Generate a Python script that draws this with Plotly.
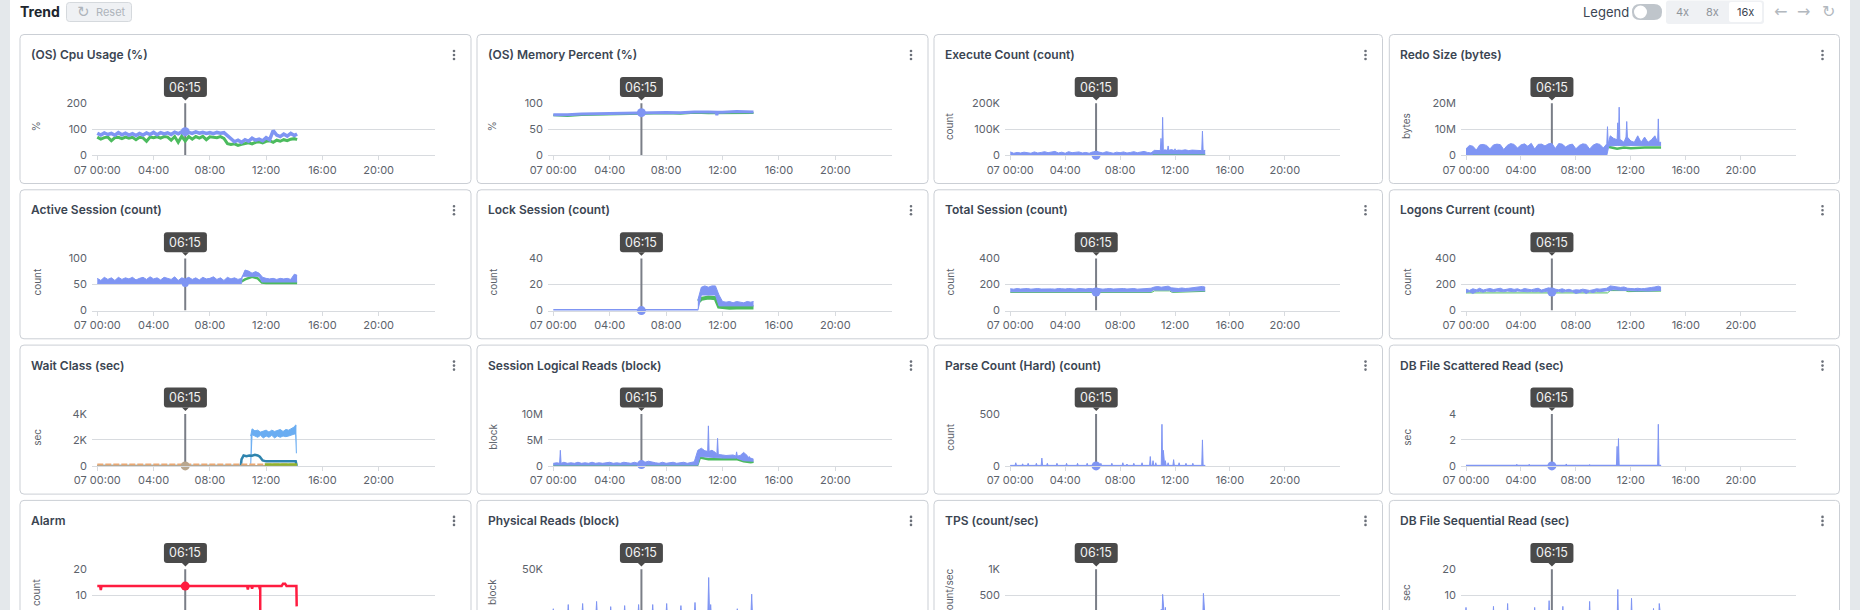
import plotly.graph_objects as go

W, H = 1860, 610
FONT = "Inter"

# Shared 15-minute sampling clock, hours since 07 00:00
HOURS = [0, .25, .5, .75, 1, 1.25, 1.5, 1.75, 2, 2.25, 2.5, 2.75, 3, 3.25, 3.5, 3.75, 4, 4.25, 4.5, 4.75,
         5, 5.25, 5.5, 5.75, 6, 6.25, 6.5, 6.75, 7, 7.25, 7.5, 7.75, 8, 8.25, 8.5, 8.75, 9, 9.25, 9.5, 9.75,
         10, 10.25, 10.5, 10.75, 11, 11.25, 11.5, 11.75, 12, 12.25, 12.5, 12.75, 13, 13.25, 13.5, 13.75, 14, 14.2]
TICK_HOURS = [0, 4, 8, 12, 16, 20]
TICK_TEXT = ["07 00:00", "04:00", "08:00", "12:00", "16:00", "20:00"]
CURSOR_HOUR = 6.25
CURSOR_TEXT = "06:15"

# (OS) Cpu Usage
cpu_blue = [85, 78, 86, 80, 84, 77, 87, 79, 85, 78, 83, 76, 84, 78, 86, 80, 88, 79, 87, 82, 86, 80, 89, 83, 90,
            98, 88, 84, 90, 85, 88, 84, 87, 83, 88, 85, 87,
            74, 62, 52, 58, 50, 60, 54, 66, 58, 62, 56, 68, 60, 95, 78, 72, 82, 74, 84, 76, 82]
cpu_green = [70, 62, 68, 70, 56, 68, 69, 64, 70, 66, 69, 60, 69, 67, 54, 70, 68, 71, 66, 72, 70, 58, 72, 50, 73,
             55, 72, 62, 72, 66, 73, 60, 71, 70, 68, 72, 65,
             45, 42, 44, 38, 42, 46, 48, 44, 50, 52, 48, 54, 56, 50, 58, 54, 60, 56, 62, 64, 60]

# (OS) Memory Percent
mem_blue_x = [0, 1, 2, 3, 4, 5, 6.25, 7, 8, 9, 10, 11, 11.55, 11.6, 11.65, 12, 13, 14.2]
mem_blue = [78, 78, 79.5, 80, 81, 81.5, 82, 82.5, 82.5, 82, 83.5, 83.5, 83, 77, 83, 83, 84, 83.5]
mem_green_x = [0, 1, 2, 4, 6.25, 7, 8, 9, 10, 11, 12, 13, 14.2]
mem_green = [77, 75.5, 77.5, 79, 80, 80, 81, 80, 82, 81, 81.5, 82, 81.5]

# Execute Count (K)
exec_hi = [13, 8, 11, 9, 12, 10, 8, 13, 9, 11, 14, 10, 13, 15, 9, 12, 8, 14, 10, 11, 13, 9, 11, 8, 13, 10, 12, 9, 14, 11,
           8, 12, 10, 13, 9, 11, 14, 10, 12, 15, 11, 9,
           19, 20, 18, 21, 19, 22, 18, 20, 19, 21, 18, 20, 19, 20, 18, 19]
exec_lo_x = [0, 10.25, 10.4, 14.2]
exec_lo = [0, 0, 5, 5]
exec_peak_x = [10.98, 11.1, 11.5, 12.0, 14.0]
exec_peak = [65, 146, 36, 25, 93]
exec_green_x = [10.3, 14.2]
exec_green = [3, 3]

# Redo Size (M)
redo_hi = [2.5, 3.8, 3.5, 2, 4, 4.2, 3.8, 2.5, 4, 4.3, 4.1, 2.2, 3.8, 4.5, 4.2, 2.8, 4, 4.4, 3.5, 4.6, 2.4, 4.2, 4.3,
           3.6, 4.4, 4.6, 2.6, 4.5, 4.3, 3.2, 4, 4.3, 2.5, 3.8, 4.4, 4.2, 2.4, 3.9, 4.5, 4.2, 2.8, 4.4,
           7.5, 6.5, 6, 6, 5, 7, 5.5, 5, 7.5, 5, 7, 5, 6, 7.5, 5, 5]
redo_lo_x = [0, 10.25, 10.4, 11, 14.2]
redo_lo = [0, 0, 3.6, 3.8, 3.8]
redo_peak_x = [10.3, 11.05, 11.15, 11.7, 14.0]
redo_peak = [11, 12.5, 18.5, 13, 14]
redo_green_x = [10.25, 10.5, 11, 11.5, 12, 13, 14.2]
redo_green = [3.4, 3, 2.5, 3, 2.7, 3, 3]

# Active Session
active_hi = [62, 58, 64, 60, 63, 58, 64, 60, 63, 61, 64, 59, 62, 64, 60, 65, 61, 63, 59, 64, 62, 60, 65, 58, 63,
             61, 64, 60, 63, 59, 64, 61, 62, 65, 60, 63, 58, 64, 61, 63, 60, 62,
             78, 76, 72, 75, 72, 64, 62, 61, 62, 60, 62, 61, 62, 60, 70, 68]
active_lo_x = [0, 10.25, 10.3, 11.5, 11.7, 14.2]
active_lo = [52, 52, 66, 66, 55, 55]
active_green_x = [10.25, 10.5, 11, 11.4, 11.7, 12, 13, 14.2]
active_green = [56, 60, 65, 62, 54, 53, 53, 53]

# Lock Session
lock_idle_x = [0, 10.25]
lock_idle = [0, 0]
lock_hi = [8, 18, 19, 18, 19, 19, 12, 7, 6.5, 7, 6, 7, 6.5, 6, 7, 6.5, 7]
lock_lo_x = [10.25, 10.5, 11.5, 11.75, 14.2]
lock_lo = [0, 12, 12, 3.6, 3.6]
lock_green_x = [10.3, 10.5, 11, 11.5, 11.75, 12.5, 13.5, 14.2]
lock_green = [7, 9, 10, 9.5, 3, 2.2, 2.6, 2.4]

# Total Session
total_hi = [168, 165, 170, 166, 168, 170, 165, 168, 170, 166, 168, 170, 167, 165, 170, 168, 166, 170, 168, 165,
            170, 168, 166, 170, 168, 172, 168, 165, 168, 170, 166, 168, 165, 170, 166, 168, 170, 165, 168, 166,
            170, 172,
            182, 185, 180, 184, 188, 175, 172, 170, 174, 170, 172, 175, 178, 182, 186, 180]
total_lo_x = [0, 6.1, 6.25, 6.4, 10.25, 10.4, 11.6, 11.8, 13.4, 14.2]
total_lo = [145, 145, 122, 145, 145, 158, 158, 145, 152, 152]
total_green_x = [0, 10.3, 10.5, 11.6, 11.8, 14.2]
total_green = [140, 140, 152, 152, 140, 148]

# Logons Current
logon_hi = [165, 155, 168, 160, 172, 158, 165, 170, 162, 168, 172, 160, 167, 170, 163, 168, 158, 170, 165, 160,
            167, 172, 158, 165, 175, 170, 165, 160, 168, 158, 164, 155, 160, 158, 165, 162, 155, 160, 168, 165,
            170, 172,
            190, 185, 182, 178, 182, 172, 170, 168, 172, 168, 170, 172, 178, 182, 188, 180]
logon_lo = [140, 145, 132, 145, 148, 142, 150, 148, 145, 150, 148, 145, 150, 148, 145, 150, 148, 146, 145, 148,
            145, 148, 142, 146, 150, 128, 145, 148, 142, 146, 148, 145, 132, 140, 146, 132, 146, 138, 148, 145,
            150, 150,
            160, 160, 158, 156, 155, 152, 150, 152, 150, 152, 150, 150, 152, 155, 155, 155]
logon_green_x = [0, 10.3, 10.5, 11.6, 11.8, 14.2]
logon_green = [136, 136, 154, 154, 146, 150]

# Wait Class, one list per class
wait_sky_x = [10.9, 11, 11.2, 11.4, 11.6, 11.8, 12, 12.2, 12.4, 12.6, 12.8, 13, 13.2, 13.4, 13.6, 13.8, 14, 14.1, 14.15]
wait_sky_hi = [2300, 2850, 2700, 2750, 2600, 2700, 2750, 2600, 2750, 2650, 2700, 2800, 2650, 2800, 2750, 2900, 3000, 3150, 3100]
wait_sky_lo = [0, 2400, 2300, 2200, 2350, 2150, 2300, 2200, 2350, 2150, 2300, 2200, 2300, 2250, 2300, 2350, 2450, 2400, 970]
wait_teal_x = [0, 10.2, 10.25, 10.4, 10.6, 10.8, 11, 11.2, 11.4, 11.55, 11.75, 12, 13, 14.1, 14.15, 14.17]
wait_teal = [0, 0, 500, 800, 750, 800, 780, 850, 800, 700, 420, 350, 350, 350, 100, 0]
wait_orange_x = [0, 14.2]
wait_orange = [80, 80]
wait_olive_x = [11.9, 14.2]
wait_olive = [110, 110]
wait_tan_x = [0, 14.2]
wait_tan = [10, 10]

# Session Logical Reads (M)
logical_hi = [.5, .6, .5, .7, .5, .6, .5, .7, .5, .6, .5, .7, .5, .6, .5, .6, .7, .5, .6, .5, .7, .6, .5, .7, .5,
              .8, .7, .9, .7, .6, .5, .7, .5, .6, .7, .5, .6, .7, .5, .6, .8, 3.0,
              3.4, 2.9, 2.8, 3.0, 2.6, 2.2, 2.1, 2.0, 2.0, 2.1, 1.9, 2.0, 2.6, 2.0, 1.5, 1.3]
logical_lo_x = [0, 10.25, 10.4, 12, 13, 13.5, 14.2]
logical_lo = [.15, .15, 1.8, 1.5, 1.5, 1.0, .9]
logical_peak_x = [.5, 11.0, 11.65, 13.0, 13.9]
logical_peak = [3.0, 7.7, 5.3, 2.7, 1.8]
logical_green_x = [0, 10.2, 10.4, 11, 12, 13, 13.5, 14, 14.2]
logical_green = [.05, .1, 1.6, 1.3, 1.3, 1.3, .9, .7, .8]

# Parse Count (Hard)
parse_base_x = [0, 14.2]
parse_base = [5, 5]
parse_peak_x = [.4, .9, 1.3, 1.9, 2.3, 2.7, 3.4, 4.1, 4.9, 5.6, 6.2, 6.6, 7.4, 8.2, 8.5, 9.0, 9.6, 10.2, 10.4, 10.6,
                11.05, 11.15, 11.3, 11.5, 11.9, 12.3, 12.8, 13.3, 14.0]
parse_peak = [30, 20, 25, 25, 75, 25, 25, 25, 25, 25, 30, 25, 25, 30, 18, 25, 30, 90, 50, 30,
              400, 150, 50, 30, 60, 30, 25, 25, 250]

# DB File Scattered Read
scatter_base_x = [0, 14.2]
scatter_base = [.02, .02]
scatter_peak_x = [3.7, 4.6, 7.3, 9.0, 11.0, 11.1, 14.0]
scatter_peak = [.12, .12, .15, .1, 1.5, 2.1, 3.2]

# Alarm
alarm_x = [0, .2, .25, .3, 10.65, 10.7, 10.75, 10.95, 11.0, 11.05, 11.5, 11.55, 11.58, 11.58, 11.58, 13.1, 13.2, 13.35,
           13.45, 14.15, 14.17]
alarm = [13.5, 13.5, 12, 13.5, 13.5, 12.2, 13.5, 13.5, 12.5, 13.5, 13.5, 12.3, 13.5, 0, 13.5, 13.5, 14.4, 14.4,
         13.5, 13.5, 5.7]

# Physical Reads (K)
physical_peak_x = [0, 1.06, 2.08, 3.07, 4.07, 5.06, 6.05, 7.05, 8.04, 9.05, 10.05, 11.02, 11.16, 13.05, 14.07]
physical_peak = [12, 16, 17, 19, 14, 15, 16, 16, 17, 15, 18, 42, 16, 12, 26]

# TPS
tps_peak_x = [11.0, 11.1, 11.3, 14.07]
tps_peak = [230, 515, 265, 535]

# DB File Sequential Read
seq_peak_x = [0, 2.0, 3.03, 5.0, 6.05, 7.05, 9.0, 11.05, 12.05, 13.65, 14.07]
seq_peak = [5.3, 5.7, 6.8, 5.3, 7.9, 5.7, 7.6, 12.2, 8.8, 4.9, 6.8]
spike_floor_x = [0, 14.2]
spike_floor = [0, 0]

BLUE = "#7F95F3"
GREEN = "#4CBB5E"
SKY = "#6AADF2"
TEAL = "#2E84AE"
ORANGE = "#EBA873"
OLIVE = "#8FB32E"
TAN = "#B9A78F"
RED = "#FF1C40"
GRID = "#D8DBDF"
CARD = "#CBCFD5"
TEXT = "#5C626B"

# Pixel geometry of the dashboard grid
COLUMNS = [
    dict(left=20, right=471, x0=92, x1=435, t0=97.3, per_hour=14.1, unit_x=36.7),
    dict(left=477, right=928, x0=548, x1=891.7, t0=553.3, per_hour=14.1, unit_x=492.7),
    dict(left=934, right=1382.5, x0=1005, x1=1339.7, t0=1010.3, per_hour=13.75, unit_x=949.6),
    dict(left=1389.3, right=1839.5, x0=1461, x1=1795.7, t0=1466, per_hour=13.75, unit_x=1406.6),
]
ROW_PITCH = 155.3


def px(x):
    return x / W


def py(y):
    return 1 - y / H


def rounded(x0, y0, x1, y1, r):
    return (f"M {px(x0 + r)} {py(y0)} L {px(x1 - r)} {py(y0)} Q {px(x1)} {py(y0)} {px(x1)} {py(y0 + r)} "
            f"L {px(x1)} {py(y1 - r)} Q {px(x1)} {py(y1)} {px(x1 - r)} {py(y1)} "
            f"L {px(x0 + r)} {py(y1)} Q {px(x0)} {py(y1)} {px(x0)} {py(y1 - r)} "
            f"L {px(x0)} {py(y0 + r)} Q {px(x0)} {py(y0)} {px(x0 + r)} {py(y0)} Z")


def with_peaks(hours, values, peak_x, peak_y, half=.05):
    """Merge narrow peaks into a sampled series, each peak rising from its nearest sample."""
    feet = [values[min(range(len(hours)), key=lambda i: abs(hours[i] - h))] for h in peak_x]
    points = [(h, v) for h, v in zip(hours, values) if all(abs(h - p) > half for p in peak_x)]
    for h, v, f in zip(peak_x, peak_y, feet):
        points += [(h - half, f), (h, v), (h + half, f)]
    points.sort(key=lambda p: p[0])
    return [p[0] for p in points], [p[1] for p in points]


fig = go.Figure()
shapes, notes = [], []


def text(x, y, s, size=11, color=TEXT, anchor="center", weight=400, angle=0, family=FONT):
    notes.append(dict(x=px(x), y=py(y), xref="paper", yref="paper", text=s, showarrow=False, xanchor=anchor,
                      yanchor="middle", textangle=angle, font=dict(family=family, size=size, color=color, weight=weight)))


def box(x0, y0, x1, y1, fill, line=None, r=3, layer="below"):
    shapes.append(dict(type="path", path=rounded(x0, y0, x1, y1, r), xref="paper", yref="paper", fillcolor=fill,
                       line=dict(color=line or fill, width=1 if line else 0), layer=layer))


def line(n, x, y, color, width=2.5, dash=None):
    fig.add_trace(go.Scatter(x=x, y=y, mode="lines", xaxis=f"x{n}", yaxis=f"y{n}", cliponaxis=False,
                             line=dict(color=color, width=width, dash=dash, shape="linear"), hoverinfo="skip"))


def band(n, hi_x, hi, lo_x, lo, color):
    line(n, lo_x, lo, color, 1)
    fig.add_trace(go.Scatter(x=hi_x, y=hi, mode="lines", xaxis=f"x{n}", yaxis=f"y{n}", cliponaxis=False,
                             fill="tonexty", fillcolor=color, line=dict(color=color, width=1), hoverinfo="skip"))


def dot(n, y, color, size=9):
    fig.add_trace(go.Scatter(x=[CURSOR_HOUR], y=[y], mode="markers", xaxis=f"x{n}", yaxis=f"y{n}", cliponaxis=False,
                             marker=dict(color=color, size=size), hoverinfo="skip"))


def panel(n, row, col, title, unit, top, ticks, labels):
    c = COLUMNS[col]
    off = row * ROW_PITCH
    y_top, y_zero = 103.3 + off, 155.3 + off
    y_bottom = min(y_zero, H)
    low = top * (y_zero - y_bottom) / (y_zero - y_top)
    box(c["left"], 34.5 + off, c["right"], 183.5 + off, "#FFFFFF", CARD, 4)
    text(c["left"] + 9, 54.5 + off, title, 12, "#3B4552", "left", 600)
    for dy in (-4, 0, 4):
        shapes.append(dict(type="circle", xref="paper", yref="paper", x0=px(c["right"] - 18.3), x1=px(c["right"] - 15.7),
                           y0=py(55 + off + dy + 1.3), y1=py(55 + off + dy - 1.3), fillcolor="#6B7079",
                           line=dict(width=0), layer="above"))
    text(c["unit_x"], 126.5 + off, unit, 10, TEXT, angle=-90)
    x_key = "xaxis" if n == 1 else f"xaxis{n}"
    y_key = "yaxis" if n == 1 else f"yaxis{n}"
    x_start = (c["x0"] - c["t0"]) / c["per_hour"]
    fig.update_layout(**{
        x_key: dict(domain=[px(c["x0"]), px(c["x1"])], range=[x_start, 24], anchor=f"y{n}", tickmode="array",
                    tickvals=TICK_HOURS, ticktext=TICK_TEXT, showgrid=False, zeroline=False,
                    showline=row < 3, linecolor=GRID, linewidth=1, ticks="outside" if row < 3 else "",
                    ticklen=4, tickcolor=GRID, showticklabels=row < 3, fixedrange=True,
                    tickfont=dict(family=FONT, size=11, color=TEXT)),
        y_key: dict(domain=[py(y_bottom), py(y_top)], range=[low, top], anchor=f"x{n}", tickmode="array",
                    tickvals=ticks, ticktext=labels, showgrid=True, gridcolor=GRID, gridwidth=1, zeroline=False,
                    showline=False, ticks="", ticklabelstandoff=4, fixedrange=True,
                    tickfont=dict(family=FONT, size=11, color=TEXT)),
    })
    # Cursor stem, bubble and its time label
    cx = c["t0"] + CURSOR_HOUR * c["per_hour"]
    line(n, [CURSOR_HOUR, CURSOR_HOUR], [low, top * 1.1], "#7A7E87", 2)
    box(cx - 21.5, 77 + off, cx + 21.5, 97 + off, "#4A4A4A", None, 3, "above")
    shapes.append(dict(type="path", xref="paper", yref="paper", layer="above", fillcolor="#4A4A4A", line=dict(width=0),
                       path=f"M {px(cx - 3.5)} {py(97 + off)} L {px(cx)} {py(100.5 + off)} L {px(cx + 3.5)} {py(97 + off)} Z"))
    text(cx, 87 + off, CURSOR_TEXT, 12.5, "#F2F2F2")


# Row 1
panel(1, 0, 0, "(OS) Cpu Usage (%)", "%", 200, [0, 100, 200], ["0", "100", "200"])
line(1, HOURS, cpu_green, GREEN, 3)
line(1, HOURS, cpu_blue, BLUE, 3.5)
dot(1, 91, BLUE)

panel(2, 0, 1, "(OS) Memory Percent (%)", "%", 100, [0, 50, 100], ["0", "50", "100"])
line(2, mem_green_x, mem_green, GREEN, 2)
line(2, mem_blue_x, mem_blue, BLUE, 3)
dot(2, 82, BLUE)

panel(3, 0, 2, "Execute Count (count)", "count", 200, [0, 100, 200], ["0", "100K", "200K"])
line(3, exec_green_x, exec_green, GREEN, 1)
px3, py3 = with_peaks(HOURS, exec_hi, exec_peak_x, exec_peak)
band(3, px3, py3, exec_lo_x, exec_lo, BLUE)
dot(3, 0, BLUE)

panel(4, 0, 3, "Redo Size (bytes)", "bytes", 20, [0, 10, 20], ["0", "10M", "20M"])
line(4, redo_green_x, redo_green, GREEN, 2.5)
px4, py4 = with_peaks(HOURS, redo_hi, redo_peak_x, redo_peak)
dot(4, -.3, GREEN)
band(4, px4, py4, redo_lo_x, redo_lo, BLUE)

# Row 2
panel(5, 1, 0, "Active Session (count)", "count", 100, [0, 50, 100], ["0", "50", "100"])
line(5, active_green_x, active_green, GREEN, 2.5)
band(5, HOURS, active_hi, active_lo_x, active_lo, BLUE)
dot(5, 52, BLUE, 7)

panel(6, 1, 1, "Lock Session (count)", "count", 40, [0, 20, 40], ["0", "20", "40"])
line(6, lock_green_x, lock_green, GREEN, 4)
line(6, lock_idle_x, lock_idle, BLUE, 3)
band(6, HOURS[41:], lock_hi, lock_lo_x, lock_lo, BLUE)
dot(6, 0, BLUE)

panel(7, 1, 2, "Total Session (count)", "count", 400, [0, 200, 400], ["0", "200", "400"])
line(7, total_green_x, total_green, GREEN, 1)
band(7, HOURS, total_hi, total_lo_x, total_lo, BLUE)
dot(7, 143, BLUE)

panel(8, 1, 3, "Logons Current (count)", "count", 400, [0, 200, 400], ["0", "200", "400"])
line(8, logon_green_x, logon_green, GREEN, 1)
band(8, HOURS, logon_hi, HOURS, logon_lo, BLUE)
dot(8, 143, BLUE)

# Row 3
panel(9, 2, 0, "Wait Class (sec)", "sec", 4000, [0, 2000, 4000], ["0", "2K", "4K"])
band(9, wait_sky_x, wait_sky_hi, wait_sky_x, wait_sky_lo, SKY)
line(9, wait_teal_x, wait_teal, TEAL, 2.5)
line(9, wait_orange_x, wait_orange, ORANGE, 2.5, "6px,2px")
line(9, wait_tan_x, wait_tan, TAN, 1.5)
line(9, wait_olive_x, wait_olive, OLIVE, 2.5)
dot(9, 0, TAN)

panel(10, 2, 1, "Session Logical Reads (block)", "block", 10, [0, 5, 10], ["0", "5M", "10M"])
line(10, logical_green_x, logical_green, GREEN, 2.5)
px10, py10 = with_peaks(HOURS, logical_hi, logical_peak_x, logical_peak)
dot(10, -.05, GREEN)
band(10, px10, py10, logical_lo_x, logical_lo, BLUE)
dot(10, .25, BLUE)

panel(11, 2, 2, "Parse Count (Hard) (count)", "count", 500, [0, 500], ["0", "500"])
px11, py11 = with_peaks(parse_base_x, parse_base, parse_peak_x, parse_peak)
band(11, px11, py11, spike_floor_x, spike_floor, BLUE)
dot(11, 0, BLUE)

panel(12, 2, 3, "DB File Scattered Read (sec)", "sec", 4, [0, 2, 4], ["0", "2", "4"])
px12, py12 = with_peaks(scatter_base_x, scatter_base, scatter_peak_x, scatter_peak)
band(12, px12, py12, spike_floor_x, spike_floor, BLUE)
line(12, spike_floor_x, spike_floor, BLUE, 2.5)
dot(12, 0, BLUE)

# Row 4 runs off the bottom of the page
panel(13, 3, 0, "Alarm", "count", 20, [0, 10, 20], ["0", "10", "20"])
line(13, alarm_x, alarm, RED, 2.5)
dot(13, 13.5, RED)

panel(14, 3, 1, "Physical Reads (block)", "block", 50, [0, 50], ["0", "50K"])
px14, py14 = with_peaks(spike_floor_x, spike_floor, physical_peak_x, physical_peak, .07)
band(14, px14, py14, spike_floor_x, spike_floor, BLUE)

panel(15, 3, 2, "TPS (count/sec)", "count/sec", 1000, [0, 500, 1000], ["0", "500", "1K"])
px15, py15 = with_peaks(spike_floor_x, spike_floor, tps_peak_x, tps_peak, .05)
band(15, px15, py15, spike_floor_x, spike_floor, BLUE)

panel(16, 3, 3, "DB File Sequential Read (sec)", "sec", 20, [0, 10, 20], ["0", "10", "20"])
px16, py16 = with_peaks(spike_floor_x, spike_floor, seq_peak_x, seq_peak, .05)
band(16, px16, py16, spike_floor_x, spike_floor, BLUE)

# Page gutters and toolbar
shapes.append(dict(type="rect", xref="paper", yref="paper", x0=0, x1=px(10), y0=0, y1=1, fillcolor="#E4E8EB",
                   line=dict(width=0), layer="below"))
shapes.append(dict(type="rect", xref="paper", yref="paper", x0=px(1850), x1=1, y0=0, y1=1, fillcolor="#E4E8EB",
                   line=dict(width=0), layer="below"))
text(18, 12, "Trend", 14, "#20262E", "left", 700)
box(66.5, 2.5, 131.5, 21.5, "#EFF1F4", "#D5D9DD", 3)
text(83, 12, "↻", 15, "#AEB4BB", family="DejaVu Sans")
text(94, 12, "Reset", 11, "#AEB4BB", "left")
text(1606, 12.5, "Legend", 13, "#3B4552")
box(1632, 4, 1662, 20, "#BFC5CB", None, 8)
shapes.append(dict(type="circle", xref="paper", yref="paper", x0=px(1634), x1=px(1647), y0=py(18.5), y1=py(5.5),
                   fillcolor="#FFFFFF", line=dict(width=0), layer="below"))
box(1666, 0.5, 1764, 24, "#EFF1F4", None, 3)
box(1729, 2, 1762, 22, "#FFFFFF", None, 2)
text(1682, 12.5, "4x", 11, "#8F959C")
text(1712.5, 12.5, "8x", 11, "#8F959C")
text(1745, 12.5, "16x", 11, "#3B4552")
text(1780, 12, "←", 16, "#B2B8BE", family="DejaVu Sans")
text(1803.5, 12, "→", 16, "#B2B8BE", family="DejaVu Sans")
text(1828, 12, "↻", 16, "#B2B8BE", family="DejaVu Sans")

fig.update_layout(width=W, height=H, margin=dict(l=0, r=0, t=0, b=0, pad=0, autoexpand=False), paper_bgcolor="#FFFFFF",
                  plot_bgcolor="rgba(0,0,0,0)", showlegend=False, shapes=shapes, annotations=notes, hovermode=False)
fig.write_html("out.html", config=dict(displayModeBar=False))
